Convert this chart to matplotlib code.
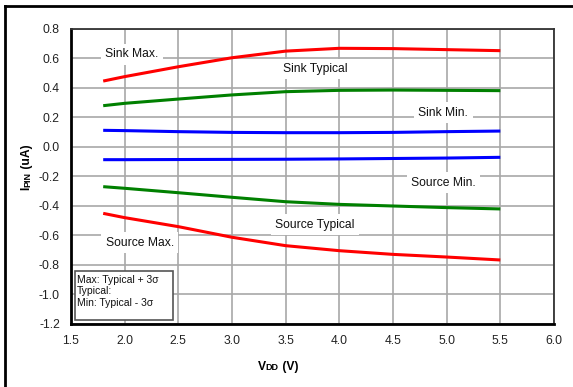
import numpy as np
import matplotlib
matplotlib.use('Agg')
import matplotlib.pyplot as plt
from matplotlib.patches import Rectangle

plt.rcParams['font.family'] = ['Liberation Sans', 'DejaVu Sans']
plt.rcParams['axes.unicode_minus'] = False

# supply voltage (V)
vdd = [1.8, 2.0, 2.5, 3.0, 3.5, 4.0, 4.5, 5.0, 5.5]

# pin current (uA)
sink_max = [0.447, 0.477, 0.544, 0.605, 0.650, 0.669, 0.667, 0.660, 0.653]
sink_typ = [0.280, 0.296, 0.325, 0.353, 0.375, 0.384, 0.386, 0.384, 0.382]
sink_min = [0.113, 0.111, 0.104, 0.099, 0.097, 0.097, 0.099, 0.104, 0.108]
source_min = [-0.086, -0.086, -0.085, -0.084, -0.083, -0.081, -0.078, -0.075, -0.070]
source_typ = [-0.269, -0.280, -0.310, -0.341, -0.371, -0.389, -0.400, -0.411, -0.420]
source_max = [-0.450, -0.479, -0.540, -0.612, -0.669, -0.703, -0.728, -0.746, -0.766]

series = [sink_max, sink_typ, sink_min, source_min, source_typ, source_max]
colors = ['#ff0000', '#008000', '#0000ff', '#0000ff', '#008000', '#ff0000']

labels = ['Sink Max.', 'Sink Typical', 'Sink Min.', 'Source Min.', 'Source Typical', 'Source Max.']
label_pos = [(2.065, 0.628), (3.78, 0.529), (4.97, 0.233),
             (4.97, -0.242), (3.77, -0.527), (2.14, -0.649)]

note_lines = ['Max: Typical + 3\u03c3', 'Typical:', 'Min: Typical - 3\u03c3']

fig = plt.figure(figsize=(5.73, 3.87), dpi=100)
ax = fig.add_axes([0.1239, 0.1628, 0.8429, 0.7623])

for vals, c in zip(series, colors):
    ax.plot(vdd, vals, color=c, lw=2.2, solid_capstyle='butt', zorder=3)

ax.set_xlim(1.5, 6.0)
ax.set_ylim(-1.2, 0.8)
ax.set_xticks(np.round(np.arange(1.5, 6.01, 0.5), 1))
ax.set_yticks(np.round(np.arange(-1.2, 0.81, 0.2), 1) + 0.0)
ax.set_yticklabels(['%.1f' % abs(v) if abs(v) < 1e-9 else '%.1f' % v for v in ax.get_yticks()])
ax.xaxis.set_major_formatter(matplotlib.ticker.FormatStrFormatter('%.1f'))
ax.tick_params(length=0, labelsize=8.7, pad=8, colors='#222222')
ax.grid(True, color='#a8a8a8', lw=1.2, zorder=0)

for s in ['left', 'bottom']:
    ax.spines[s].set_linewidth(2)
    ax.spines[s].set_color('black')
for s in ['top', 'right']:
    ax.spines[s].set_linewidth(1.3)
    ax.spines[s].set_color('#333333')

for lab, (x, y) in zip(labels, label_pos):
    ax.text(x, y, lab, fontsize=8.7, ha='center', va='center', color='#111111', zorder=2,
            bbox=dict(boxstyle='square,pad=0.35', fc='white', ec='none'))

# note box
ax.add_patch(Rectangle((1.534, -1.173), 0.916, 0.334, fc='white', ec='#555555', lw=1.2, zorder=4))
for i, line in enumerate(note_lines):
    ax.text(1.556, -0.902 - i * 0.077, line, fontsize=7.5, ha='left', va='center', color='#111111', zorder=5)

# axis titles with reduced-size subscripts
t1 = fig.text(0.4495, 1 - 370 / 387, 'V', fontsize=8.7, fontweight='bold', ha='left', va='baseline')
t2 = fig.text(0, 0, 'DD', fontsize=6.5, fontweight='bold', ha='left', va='baseline')
t3 = fig.text(0, 0, ' (V)', fontsize=8.7, fontweight='bold', ha='left', va='baseline')
fig.canvas.draw()
r = fig.canvas.get_renderer()
bb = t1.get_window_extent(r)
y0 = t1.get_position()[1]
t2.set_position((bb.x1 / fig.bbox.width, y0))
bb = t2.get_window_extent(r)
t3.set_position((bb.x1 / fig.bbox.width, y0))

y1 = fig.text(26 / 573, 0, 'I', fontsize=8.7, fontweight='bold', rotation=90, ha='center', va='bottom')
y2 = fig.text(0, 0, 'PIN', fontsize=6.5, fontweight='bold', rotation=90, ha='right', va='bottom')
y3 = fig.text(0, 0, ' (uA)', fontsize=8.7, fontweight='bold', rotation=90, ha='right', va='bottom')
y1.set_position((26 / 573, 1 - 190 / 387))
fig.canvas.draw()
bb = y1.get_window_extent(r)
xr = bb.x1 / fig.bbox.width
y2.set_position((xr, bb.y1 / fig.bbox.height))
bb2 = y2.get_window_extent(r)
y3.set_position((xr + 0.001, bb2.y1 / fig.bbox.height))

# outer frame (top and left)
fig.add_artist(plt.Line2D([5 / 573, 1], [1 - 6 / 387, 1 - 6 / 387], color='black', lw=2, transform=fig.transFigure))
fig.add_artist(plt.Line2D([5 / 573, 5 / 573], [0, 1 - 6 / 387], color='black', lw=2, transform=fig.transFigure))

fig.savefig('out.png', dpi=100)
